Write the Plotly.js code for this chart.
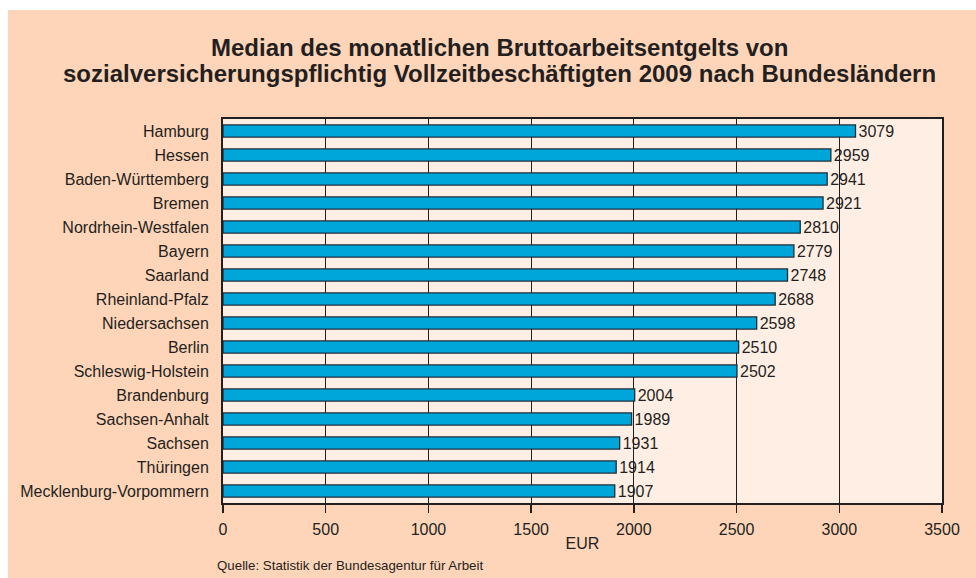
<!DOCTYPE html>
<html>
<head>
<meta charset="utf-8">
<script src="https://cdn.plot.ly/plotly-3.0.1.min.js"></script>
<style>
  html, body { margin: 0; padding: 0; background: #ffffff; width: 976px; height: 578px; overflow: hidden; }
  #chart { position: absolute; left: 8px; top: 10px; width: 968px; height: 568px; }
</style>
</head>
<body>
<div id="chart"></div>
<script>
const laender = ['Hamburg','Hessen','Baden-Württemberg','Bremen','Nordrhein-Westfalen','Bayern','Saarland','Rheinland-Pfalz','Niedersachsen','Berlin','Schleswig-Holstein','Brandenburg','Sachsen-Anhalt','Sachsen','Thüringen','Mecklenburg-Vorpommern'];
const werte = [3079,2959,2941,2921,2810,2779,2748,2688,2598,2510,2502,2004,1989,1931,1914,1907];
const xTicks = [0,500,1000,1500,2000,2500,3000,3500];
const titelZeile1 = 'Median des monatlichen Bruttoarbeitsentgelts von';
const titelZeile2 = 'sozialversicherungspflichtig Vollzeitbeschäftigten 2009 nach Bundesländern';
const quelle = 'Quelle: Statistik der Bundesagentur für Arbeit';
const einheit = 'EUR';

const dark = '#231f20';
const font = 'Arial, "Liberation Sans", sans-serif';

const trace = {
  type: 'bar',
  orientation: 'h',
  y: laender,
  x: werte,
  text: werte.map(String),
  textposition: 'outside',
  constraintext: 'none',
  cliponaxis: false,
  textfont: {family: font, size: 16, color: dark},
  marker: {color: '#00a5da', line: {color: '#1c2f3a', width: 1.3}},
  hoverinfo: 'x+y'
};

const titleFont = {family: font, size: 24, color: dark, weight: 'bold'};

const layout = {
  width: 968,
  height: 568,
  paper_bgcolor: '#fed5b9',
  plot_bgcolor: '#ffeee4',
  margin: {l: 215, r: 34, t: 109, b: 75},
  bargap: 0.49,
  showlegend: false,
  font: {family: font, color: dark, size: 16},
  xaxis: {
    range: [0, 3500],
    tickvals: xTicks,
    ticktext: xTicks.map(String),
    showgrid: true,
    gridcolor: dark,
    gridwidth: 1,
    zeroline: false,
    showline: true,
    linecolor: dark,
    linewidth: 2,
    mirror: true,
    ticks: 'outside',
    ticklen: 8,
    tickwidth: 1.5,
    tickcolor: dark,
    ticklabelstandoff: 3,
    tickfont: {family: font, size: 16, color: dark},
    title: {text: einheit, font: {family: font, size: 16, color: dark}, standoff: 1}
  },
  yaxis: {
    autorange: 'reversed',
    showgrid: false,
    showline: true,
    linecolor: dark,
    linewidth: 2,
    mirror: true,
    ticks: '',
    ticklabelstandoff: 9,
    tickfont: {family: font, size: 16, color: dark}
  },
  annotations: [
    {
      text: titelZeile1,
      xref: 'paper', yref: 'paper', x: 0.384, y: 1,
      xanchor: 'center', yanchor: 'middle', yshift: 72,
      showarrow: false, font: titleFont
    },
    {
      text: titelZeile2,
      xref: 'paper', yref: 'paper', x: 0.384, y: 1,
      xanchor: 'center', yanchor: 'middle', yshift: 46,
      showarrow: false, font: titleFont
    },
    {
      text: quelle,
      xref: 'paper', yref: 'paper',
      x: -0.011, y: 0, xanchor: 'left', yanchor: 'top',
      yshift: -53,
      showarrow: false,
      font: {family: font, size: 13.3, color: dark}
    }
  ]
};

Plotly.newPlot('chart', [trace], layout, {displayModeBar: false, staticPlot: true});
</script>
</body>
</html>
